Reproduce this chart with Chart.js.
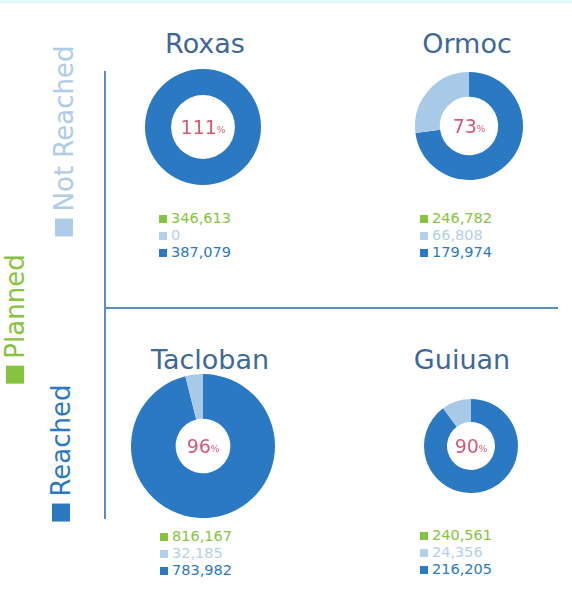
<!DOCTYPE html>
<html>
<head>
<meta charset="utf-8">
<script src="https://cdn.jsdelivr.net/npm/chart.js@4"></script>
<style>
  html, body { margin: 0; padding: 0; }
  body {
    width: 572px; height: 608px; position: relative; overflow: hidden;
    background: #fff; font-family: "DejaVu Sans", Verdana, sans-serif;
    border-top: 3px solid #e2f9fd; box-sizing: border-box;
  }
  .abs { position: absolute; }
  .title { color: #3d6898; font-size: 27px; transform: translate(-50%, -50%); white-space: nowrap; }
  .side { white-space: nowrap; font-size: 26px; line-height: 26px; transform: translate(-50%, -50%) rotate(-90deg); display: flex; align-items: center; }
  .side .sq { width: 18px; height: 18px; margin-right: 7px; }
  .legend { font-size: 14.5px; line-height: 17px; }
  .legend div { display: flex; align-items: center; height: 17px; }
  .legend .sq { width: 8px; height: 8px; margin-right: 4px; }
  .vline { left: 104px; top: 68px; width: 2px; height: 448px; background: #5b8cc0; }
  .hline { left: 104px; top: 304px; width: 454px; height: 2px; background: #5b8cc0; }
</style>
</head>
<body>
<div class="abs vline"></div>
<div class="abs hline"></div>
<div id="root"></div>
<script>
// data
const cities = ['Roxas', 'Ormoc', 'Tacloban', 'Guiuan'];
const planned = [346613, 246782, 816167, 240561];
const notReached = [0, 66808, 32185, 24356];
const reached = [387079, 179974, 783982, 216205];
const pctLabels = ['111', '73', '96', '90'];
const seriesNames = ['Planned', 'Not Reached', 'Reached'];

const GREEN = '#86c440';
const LIGHT = '#a9c9e8';
const BLUE = '#2b79c2';
const PCT = '#d45a78';

// layout for each panel
const panels = [
    { cx: 203, cy: 124, r: 58, cut: '55%', tx: 205, ty: 40, lx: 159, ly: 207 },
    { cx: 469, cy: 123, r: 54, cut: '54%', tx: 467, ty: 40, lx: 420, ly: 207 },
    { cx: 203, cy: 443, r: 72, cut: '38%', tx: 210, ty: 356, lx: 160, ly: 525 },
    { cx: 471, cy: 443, r: 47, cut: '51%', tx: 462, ty: 356, lx: 420, ly: 524 }
];

const root = document.getElementById('root');
const fmt = n => n.toLocaleString('en-US');

// side labels
const sides = [
    { name: seriesNames[1], color: '#aecbe8', x: 64, y: 138 },
    { name: seriesNames[0], color: GREEN, x: 15, y: 316 },
    { name: seriesNames[2], color: BLUE, x: 61, y: 450 }
];
sides.forEach(s => {
    const d = document.createElement('div');
    d.className = 'abs side';
    d.style.left = s.x + 'px';
    d.style.top = s.y + 'px';
    d.style.color = s.color;
    d.innerHTML = `<span class="sq" style="background:${s.color}"></span><span>${s.name}</span>`;
    root.appendChild(d);
});

// center percent text
const centerText = {
    id: 'centerText',
    afterDraw(chart, args, opts) {
        const { ctx } = chart;
        const m = chart.getDatasetMeta(0).data[0];
        const x = m.x, y = m.y;
        ctx.save();
        ctx.fillStyle = PCT;
        ctx.textBaseline = 'alphabetic';
        ctx.font = '19px "DejaVu Sans"';
        const big = opts.value;
        const w1 = ctx.measureText(big).width;
        ctx.font = '9px "DejaVu Sans"';
        const w2 = ctx.measureText('%').width;
        const start = x - (w1 + w2) / 2;
        ctx.font = '19px "DejaVu Sans"';
        ctx.fillText(big, start, y + 7);
        ctx.font = '9px "DejaVu Sans"';
        ctx.fillText('%', start + w1, y + 6);
        ctx.restore();
    }
};

cities.forEach((city, i) => {
    const p = panels[i];

    const t = document.createElement('div');
    t.className = 'abs title';
    t.style.left = p.tx + 'px';
    t.style.top = p.ty + 'px';
    t.textContent = city;
    root.appendChild(t);

    const size = p.r * 2;
    const cv = document.createElement('canvas');
    cv.width = size; cv.height = size;
    cv.className = 'abs';
    cv.style.left = (p.cx - p.r) + 'px';
    cv.style.top = (p.cy - p.r) + 'px';
    root.appendChild(cv);

    new Chart(cv.getContext('2d'), {
        type: 'doughnut',
        data: {
            labels: [seriesNames[2], seriesNames[1]],
            datasets: [{
                data: [reached[i], notReached[i]],
                backgroundColor: [BLUE, LIGHT],
                borderWidth: 0,
                hoverOffset: 0
            }]
        },
        options: {
            responsive: false,
            animation: false,
            events: [],
            cutout: p.cut,
            layout: { padding: 0 },
            plugins: {
                legend: { display: false },
                tooltip: { enabled: false },
                centerText: { value: pctLabels[i] }
            }
        },
        plugins: [centerText]
    });

    const lg = document.createElement('div');
    lg.className = 'abs legend';
    lg.style.left = p.lx + 'px';
    lg.style.top = p.ly + 'px';
    const vals = [planned[i], notReached[i], reached[i]];
    const cols = [GREEN, '#b3cfeb', BLUE];
    lg.innerHTML = vals.map((v, k) =>
        `<div style="color:${cols[k]}"><span class="sq" style="background:${cols[k]}"></span>${fmt(v)}</div>`
    ).join('');
    root.appendChild(lg);
});
</script>
</body>
</html>
